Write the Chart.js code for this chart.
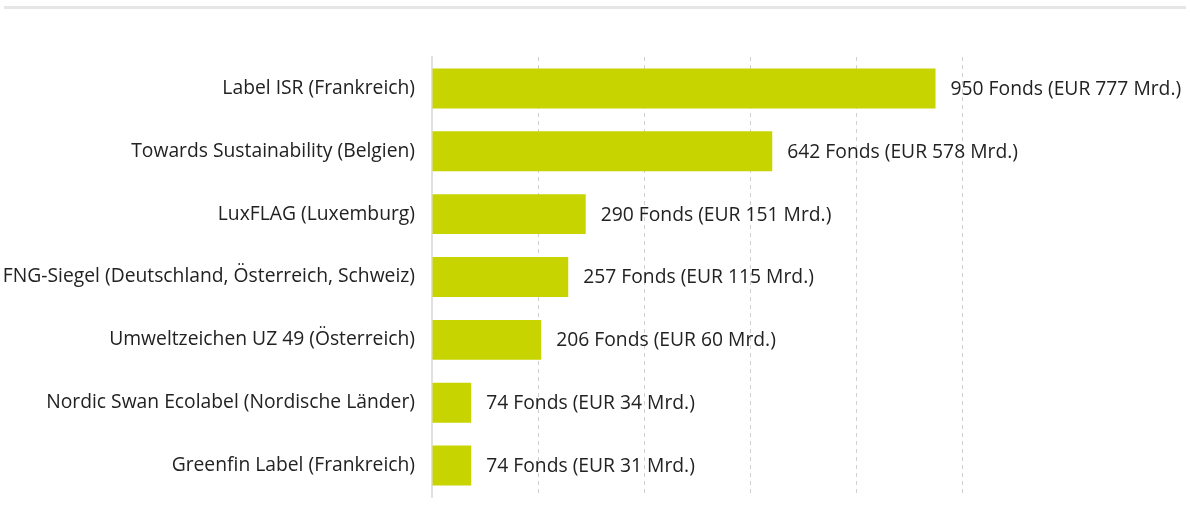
<!DOCTYPE html>
<html>
<head>
<meta charset="utf-8">
<script src="https://cdn.jsdelivr.net/npm/chart.js@4"></script>
<style>
  html, body { margin: 0; padding: 0; background: #fff; }
  #wrap { position: relative; width: 1190px; height: 528px; }
  #topline { position: absolute; left: 4px; right: 4px; top: 6px; height: 3px; background: #e6e6e6; }
</style>
</head>
<body>
<div id="wrap">
  <div id="topline"></div>
  <canvas id="chart" width="1190" height="528"></canvas>
</div>
<script>
const labels = [
  'Label ISR (Frankreich)',
  'Towards Sustainability (Belgien)',
  'LuxFLAG (Luxemburg)',
  'FNG-Siegel (Deutschland, Österreich, Schweiz)',
  'Umweltzeichen UZ 49 (Österreich)',
  'Nordic Swan Ecolabel (Nordische Länder)',
  'Greenfin Label (Frankreich)'
];
const fonds = [950, 642, 290, 257, 206, 74, 74];
const volumen = [777, 578, 151, 115, 60, 34, 31];

const fontFamily = "'Open Sans', 'Noto Sans', sans-serif";
const fontSize = 19.3;

const valueLabels = {
  id: 'valueLabels',
  afterDatasetsDraw(chart) {
    const ctx = chart.ctx;
    const meta = chart.getDatasetMeta(0);
    ctx.save();
    ctx.font = fontSize + 'px ' + fontFamily;
    ctx.fillStyle = '#222';
    ctx.textAlign = 'left';
    ctx.textBaseline = 'middle';
    meta.data.forEach(function (bar, i) {
      ctx.fillText(fonds[i] + ' Fonds (EUR ' + volumen[i] + ' Mrd.)', bar.x + 15, bar.y + 1);
    });
    ctx.restore();
  }
};

new Chart(document.getElementById('chart'), {
  type: 'bar',
  data: {
    labels: labels,
    datasets: [{
      data: fonds,
      backgroundColor: '#c8d400',
      borderWidth: 0,
      barPercentage: 0.635,
      categoryPercentage: 1
    }]
  },
  options: {
    indexAxis: 'y',
    responsive: false,
    animation: false,
    layout: { padding: { top: 57, right: 228, bottom: 31, left: 0 } },
    plugins: {
      legend: { display: false },
      tooltip: { enabled: false }
    },
    scales: {
      x: {
        min: 0,
        max: 1000,
        ticks: { stepSize: 200, display: false },
        grid: { color: '#cfcfcf', lineWidth: 1, drawTicks: false },
        border: { display: false, dash: [4, 4] }
      },
      y: {
        grid: { display: false, drawTicks: false },
        border: { display: true, color: '#e0e0e0', width: 2 },
        ticks: { color: '#222', padding: 17, font: { size: fontSize, family: fontFamily } },
        afterFit: function (scale) { scale.width = 432; }
      }
    }
  },
  plugins: [valueLabels]
});
</script>
</body>
</html>
